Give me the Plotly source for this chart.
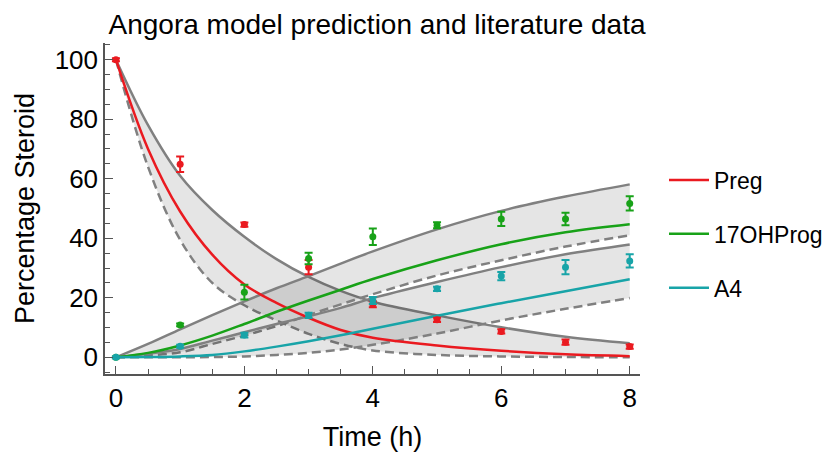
import plotly.graph_objects as go

# ---- data ----
t_model = [0, 0.5, 1, 1.5, 2, 2.5, 3, 3.5, 4, 5, 6, 7, 8]

preg_mean  = [100, 70.0, 49.0, 34.5, 24.5, 18.3, 13.3, 9.2, 6.6, 4.0, 2.2, 1.0, 0.4]
preg_upper = [100, 78.0, 61.0, 49.5, 40.5, 33.0, 27.0, 22.3, 18.7, 14.1, 10.1, 6.9, 4.7]
preg_lower = [100, 64.0, 39.5, 25.0, 17.5, 12.4, 7.9, 4.5, 2.3, 0.8, 0.3, 0.1, 0.0]

ohp_mean  = [0, 1.5, 4.0, 7.3, 11.2, 15.3, 19.1, 22.7, 26.3, 32.6, 38.0, 42.0, 44.7]
ohp_upper = [0, 4.5, 9.4, 14.2, 18.8, 23.2, 27.3, 31.5, 35.6, 43.0, 49.2, 54.0, 58.1]
ohp_lower = [0, 0.6, 1.7, 4.5, 7.3, 10.5, 14.2, 17.8, 21.2, 27.5, 32.6, 37.2, 41.0]

a4_mean  = [0, 0.1, 0.3, 0.8, 2.0, 3.6, 5.4, 7.4, 9.6, 14.0, 18.2, 22.2, 26.2]
a4_upper = [0, 1.2, 2.8, 5.6, 8.4, 11.2, 13.8, 16.6, 19.9, 25.3, 30.3, 34.6, 37.9]
a4_lower = [0, 0.0, 0.0, 0.1, 0.3, 0.8, 1.5, 2.6, 4.2, 8.0, 12.4, 16.3, 19.9]

t_data = [0, 1, 2, 3, 4, 5, 6, 7, 8]
preg_data = [100, 64.9, 44.6, 30.3, 17.8, 12.6, 8.7, 5.1, 3.6]
preg_err  = [0.5, 2.6, 0.7, 2.4, 1.0, 0.7, 0.7, 0.9, 0.7]
ohp_data  = [0, 10.9, 21.9, 33.2, 40.5, 44.4, 46.5, 46.5, 51.7]
ohp_err   = [0.3, 0.5, 2.5, 1.9, 2.8, 1.0, 2.4, 2.1, 2.4]
a4_data   = [0, 3.7, 7.5, 14.1, 19.1, 23.0, 27.3, 30.3, 32.4]
a4_err    = [0.3, 0.5, 0.8, 0.9, 1.2, 0.7, 1.4, 2.4, 2.2]

series_names = ["Preg", "17OHProg", "A4"]
colors = ["#ea1a20", "#18a218", "#18a4a8"]

band_gray = "#808080"
band_fill = "rgba(0,0,0,0.10)"

fig = go.Figure()

bands = [(preg_lower, preg_upper), (ohp_lower, ohp_upper), (a4_lower, a4_upper)]
for lo, hi in bands:
    fig.add_trace(go.Scatter(x=t_model, y=lo, mode="lines", showlegend=False,
                             line=dict(color=band_gray, width=2.5, dash="9px,5px", shape="spline"),
                             hoverinfo="skip"))
    fig.add_trace(go.Scatter(x=t_model, y=hi, mode="lines", showlegend=False,
                             fill="tonexty", fillcolor=band_fill,
                             line=dict(color=band_gray, width=2.5, shape="spline"),
                             hoverinfo="skip"))

means = [preg_mean, ohp_mean, a4_mean]
for i, m in enumerate(means):
    fig.add_trace(go.Scatter(x=t_model, y=m, mode="lines", name=series_names[i],
                             legendgroup=series_names[i],
                             line=dict(color=colors[i], width=2.5, shape="spline")))

pts = [(preg_data, preg_err), (ohp_data, ohp_err), (a4_data, a4_err)]
for i, (d, e) in enumerate(pts):
    fig.add_trace(go.Scatter(x=t_data, y=d, mode="markers", showlegend=False,
                             marker=dict(color=colors[i], size=7),
                             error_y=dict(type="data", array=e, color=colors[i],
                                          thickness=2, width=4)))

axis_common = dict(showline=True, linecolor="#555555", linewidth=1.5,
                   showgrid=False, zeroline=False, ticks="inside",
                   tickcolor="#555555", tickwidth=1.2, ticklen=8,
                   tickfont=dict(size=26, color="black", family="Liberation Sans"),
                   mirror=False, automargin=False)

fig.update_layout(
    width=827, height=452,
    margin=dict(l=105, r=187, t=43, b=78, autoexpand=False),
    paper_bgcolor="white", plot_bgcolor="white",
    font=dict(family="Liberation Sans", color="black"),
    title=dict(text="Angora model prediction and literature data",
               font=dict(size=28, family="Liberation Sans", color="black"),
               x=377 / 827, xref="container", xanchor="center",
               y=1 - 24 / 452, yref="container", yanchor="middle"),
    xaxis=dict(range=[-0.17, 8.16], dtick=2, tick0=0,
               minor=dict(dtick=0.5, ticks="inside", ticklen=5, tickcolor="#555555"),
               title=dict(text="Time (h)", font=dict(size=27), standoff=18),
               **axis_common),
    yaxis=dict(range=[-5.6, 105.6], dtick=20, tick0=0,
               minor=dict(dtick=5, ticks="inside", ticklen=5, tickcolor="#555555"),
               title=dict(text="Percentage Steroid", font=dict(size=27), standoff=12),
               **axis_common),
    legend=dict(x=664 / 827, xref="container", xanchor="left",
                y=1 - 234 / 452, yref="container", yanchor="middle",
                font=dict(size=23, family="Liberation Sans"),
                itemwidth=40,
                tracegroupgap=21, bgcolor="rgba(0,0,0,0)"),
)

fig.write_html("out.html")
